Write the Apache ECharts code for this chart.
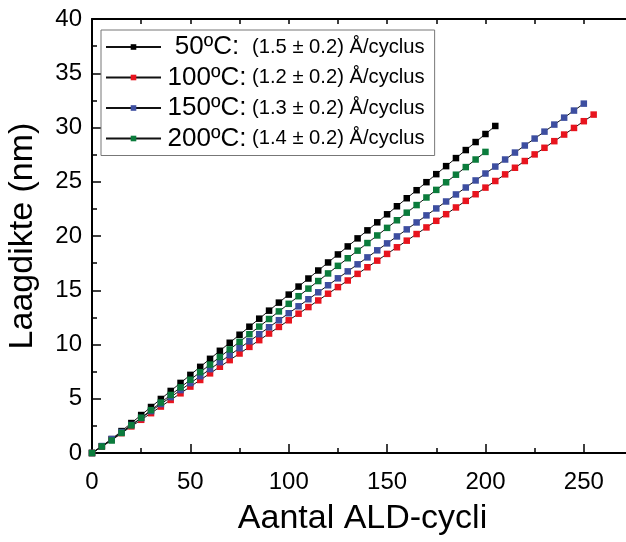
<!DOCTYPE html>
<html>
<head>
<meta charset="utf-8">
<script src="https://cdn.jsdelivr.net/npm/echarts@6/dist/echarts.min.js"></script>
<style>
html,body{margin:0;padding:0;background:#fff;}
#chart{width:626px;height:542px;}
</style>
</head>
<body>
<div id="chart"></div>
<script>
// ALD cycles (x) shared by all series, step 5
const cycles = [0,5,10,15,20,25,30,35,40,45,50,55,60,65,70,75,80,85,90,95,100,105,110,115,120,125,130,135,140,145,150,155,160,165,170,175,180,185,190,195,200,205,210,215,220,225,230,235,240,245,250,255];

// Layer thickness (nm)
const t50 = [0,0.6,1.28,2.02,2.76,3.50,4.24,4.98,5.72,6.46,7.20,7.94,8.68,9.42,10.16,10.90,11.64,12.38,13.12,13.86,14.60,15.34,16.08,16.82,17.56,18.30,19.04,19.78,20.52,21.26,22.00,22.74,23.48,24.22,24.96,25.70,26.44,27.18,27.92,28.66,29.40,30.14];
const t100 = [0,0.61,1.22,1.83,2.45,3.06,3.67,4.28,4.89,5.50,6.12,6.73,7.34,7.95,8.56,9.17,9.78,10.40,11.01,11.62,12.23,12.84,13.45,14.06,14.68,15.29,15.90,16.51,17.12,17.73,18.35,18.96,19.57,20.18,20.79,21.40,22.01,22.63,23.24,23.85,24.46,25.07,25.68,26.29,26.91,27.52,28.13,28.74,29.35,29.96,30.58,31.19];
const t150 = [0,0.64,1.29,1.93,2.58,3.22,3.86,4.51,5.15,5.80,6.44,7.08,7.73,8.37,9.02,9.66,10.30,10.95,11.59,12.24,12.88,13.52,14.17,14.81,15.46,16.10,16.74,17.39,18.03,18.68,19.32,19.96,20.61,21.25,21.90,22.54,23.18,23.83,24.47,25.12,25.76,26.40,27.05,27.69,28.34,28.98,29.62,30.27,30.91,31.56,32.20];
const t200 = [0,0.6,1.15,1.85,2.55,3.25,3.95,4.65,5.35,6.05,6.75,7.45,8.15,8.85,9.55,10.25,10.95,11.65,12.35,13.05,13.75,14.45,15.15,15.85,16.55,17.25,17.95,18.65,19.35,20.05,20.75,21.45,22.15,22.85,23.55,24.25,24.95,25.65,26.35,27.05,27.75];

const tempLabels = ['50ºC:', '100ºC:', '150ºC:', '200ºC:'];
const rateLabels = ['(1.5 ± 0.2) Å/cyclus', '(1.2 ± 0.2) Å/cyclus', '(1.3 ± 0.2) Å/cyclus', '(1.4 ± 0.2) Å/cyclus'];
const seriesValues = [t50, t100, t150, t200];
const markerColors = ['#000000', '#e8141e', '#3d4ea0', '#0b7c3c'];

const FONT = "'Liberation Sans', Arial, sans-serif";

function pairs(vals) {
  return vals.map((v, i) => [cycles[i], v]);
}

const chart = echarts.init(document.getElementById('chart'), null, {renderer: 'canvas'});

const series = seriesValues.map((vals, i) => ({
  name: tempLabels[i],
  type: 'line',
  xAxisIndex: 0,
  yAxisIndex: 0,
  data: pairs(vals),
  symbol: 'rect',
  symbolSize: 6.5,
  showSymbol: true,
  itemStyle: {color: markerColors[i]},
  lineStyle: {color: '#111111', width: 1},
  emphasis: {disabled: true},
  z: 2 + i
}));

const rateMap = {};
tempLabels.forEach((t, i) => { rateMap[t] = rateLabels[i]; });

chart.setOption({
  animation: false,
  backgroundColor: '#ffffff',
  grid: {left: 92, top: 19, width: 541, height: 434, containLabel: false, outerBoundsMode: 'none'},
  legend: {
    data: tempLabels,
    orient: 'vertical',
    left: 101,
    top: 30,
    padding: [4, 10, 4, 4],
    itemGap: 4.5,
    itemWidth: 55,
    itemHeight: 7,
    borderColor: '#777777',
    borderWidth: 1,
    backgroundColor: '#ffffff',
    selectedMode: false,
    formatter: function (name) {
      return '{a|' + name + '}{b|' + rateMap[name] + '}';
    },
    textStyle: {
      fontFamily: FONT,
      color: '#000',
      rich: {
        a: {fontSize: 26, fontFamily: FONT, color: '#000', width: 82, align: 'right', lineHeight: 26},
        b: {fontSize: 20.2, fontFamily: FONT, color: '#000', lineHeight: 26, padding: [0, 0, 0, 4]}
      }
    }
  },
  xAxis: [
    {
      type: 'value', position: 'bottom', min: 0, max: 275, interval: 50,
      name: 'Aantal ALD-cycli', nameLocation: 'middle', nameGap: 49,
      nameTextStyle: {fontFamily: FONT, fontSize: 34, color: '#000'},
      axisLine: {show: true, onZero: false, lineStyle: {color: '#000', width: 2}},
      axisTick: {show: true, inside: true, length: 9, lineStyle: {color: '#000', width: 1.5}},
      minorTick: {show: true, splitNumber: 2, length: 5, lineStyle: {color: '#000', width: 1.5}},
      axisLabel: {fontFamily: FONT, fontSize: 24, color: '#000', margin: 17, showMaxLabel: false},
      splitLine: {show: false}
    },
    {
      type: 'value', position: 'top', min: 0, max: 275, interval: 25,
      axisLine: {show: true, onZero: false, lineStyle: {color: '#000', width: 2}},
      axisTick: {show: true, inside: true, length: 5, lineStyle: {color: '#000', width: 1.5}},
      axisLabel: {show: false},
      splitLine: {show: false}
    }
  ],
  yAxis: [
    {
      type: 'value', position: 'left', min: 0, max: 40, interval: 5,
      name: 'Laagdikte (nm)', nameLocation: 'middle', nameGap: 52,
      nameTextStyle: {fontFamily: FONT, fontSize: 34, color: '#000'},
      axisLine: {show: true, onZero: false, lineStyle: {color: '#000', width: 2}},
      axisTick: {show: true, inside: true, length: 9, lineStyle: {color: '#000', width: 1.5}},
      minorTick: {show: true, splitNumber: 2, length: 5, lineStyle: {color: '#000', width: 1.5}},
      axisLabel: {fontFamily: FONT, fontSize: 24, color: '#000', margin: 10},
      splitLine: {show: false}
    },
    {
      type: 'value', position: 'right', min: 0, max: 40, interval: 5,
      axisLine: {show: true, onZero: false, lineStyle: {color: '#000', width: 2}},
      axisTick: {show: true, inside: true, length: 5, lineStyle: {color: '#000', width: 1.5}},
      axisLabel: {show: false},
      splitLine: {show: false}
    }
  ],
  series: series
});
</script>
</body>
</html>
